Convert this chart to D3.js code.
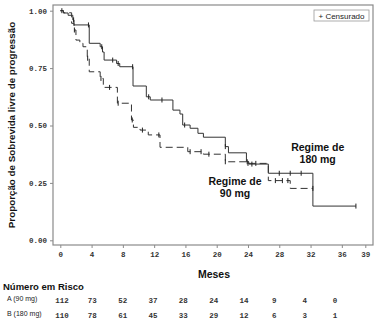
<!DOCTYPE html>
<html>
<head>
<meta charset="utf-8">
<script src="https://cdn.jsdelivr.net/npm/d3@7"></script>
<style>
  body { margin: 0; background: #fff; }
  svg { display: block; }
</style>
</head>
<body>
<div id="chart"></div>
<script>
// Kaplan-Meier steps (months, proportion)
const timesB = [0, 0.4, 1.0, 1.6, 1.75, 3.7, 5.1, 5.4, 5.6, 7.2, 7.6, 9.3, 11.0, 11.5, 14.4, 15.3, 15.65, 16.6, 17.6, 18.3, 21.1, 21.5, 23.8, 24.1, 26.6, 32.3];
const survB = [1.0, 0.99, 0.98, 0.96, 0.938, 0.858, 0.843, 0.82, 0.785, 0.77, 0.756, 0.672, 0.625, 0.611, 0.567, 0.55, 0.502, 0.488, 0.466, 0.449, 0.408, 0.381, 0.342, 0.332, 0.292, 0.149];
const endB = 37.8;
const censorB = [0.2, 1.7, 3.6, 5.3, 6.7, 7.4, 9.25, 11.3, 13.0, 15.9, 21.1, 23.9, 24.5, 28.0, 29.4, 30.8, 37.8];

const timesA = [0, 0.4, 1.45, 1.75, 2.0, 2.5, 2.9, 3.45, 3.7, 5.1, 5.5, 7.3, 9.1, 9.35, 10.2, 11.25, 12.75, 16.3, 18.3, 21.1, 23.8, 26.6, 29.4];
const survA = [1.0, 0.991, 0.945, 0.916, 0.872, 0.858, 0.843, 0.793, 0.734, 0.705, 0.666, 0.597, 0.524, 0.492, 0.48, 0.459, 0.405, 0.386, 0.375, 0.342, 0.335, 0.26, 0.226];
const endA = 32.3;
const censorA = [1.8, 3.5, 5.2, 6.3, 7.4, 9.2, 10.5, 12.6, 16.6, 18.0, 19.0, 21.1, 24.0, 25.0, 27.5, 28.4, 29.1, 32.3];

const xTicks = [0, 4, 8, 12, 16, 20, 24, 28, 32, 36, 39];
const yTicks = [0, 0.25, 0.5, 0.75, 1.0];

const riskTimes = [0, 4, 8, 12, 16, 20, 24, 28, 32, 36];
const riskA = [112, 73, 52, 37, 28, 24, 14, 9, 4, 0];
const riskB = [110, 78, 61, 45, 33, 29, 12, 6, 3, 1];

const width = 377, height = 328;
const svg = d3.select("#chart").append("svg")
  .attr("width", width)
  .attr("height", height);

const x = d3.scaleLinear().domain([0, 39]).range([60.3, 365.3]);
const y = d3.scaleLinear().domain([0, 1]).range([240.3, 10.7]);
const frame = { left: 53, top: 5, right: 373, bottom: 245 };
const axisColor = "#8a8a8a";
const monoFont = "'Liberation Mono', 'DejaVu Sans Mono', monospace";

// plot frame
svg.append("rect")
  .attr("x", frame.left).attr("y", frame.top)
  .attr("width", frame.right - frame.left).attr("height", frame.bottom - frame.top)
  .attr("fill", "none").attr("stroke", axisColor).attr("stroke-width", 1.2);

// x axis
const xAxis = svg.append("g").attr("transform", `translate(0,${frame.bottom})`)
  .call(d3.axisBottom(x).tickValues(xTicks).tickSize(3).tickPadding(4).tickFormat(d3.format("d")));
xAxis.select(".domain").remove();
xAxis.selectAll("line").attr("stroke", axisColor);
xAxis.selectAll("text").attr("font-family", monoFont).attr("font-size", 7.5).attr("font-weight", "bold").attr("fill", "#333");

// y axis
const yAxis = svg.append("g").attr("transform", `translate(${frame.left},0)`)
  .call(d3.axisLeft(y).tickValues(yTicks).tickSize(3).tickPadding(3).tickFormat(d3.format(".2f")));
yAxis.select(".domain").remove();
yAxis.selectAll("line").attr("stroke", axisColor);
yAxis.selectAll("text").attr("font-family", monoFont).attr("font-size", 7.5).attr("font-weight", "bold").attr("fill", "#333");

// step curves
function stepPoints(times, surv, end) {
  const pts = times.map((t, i) => [t, surv[i]]);
  pts.push([end, surv[surv.length - 1]]);
  return pts;
}
function survAt(times, surv, t) {
  let v = surv[0];
  for (let i = 0; i < times.length; i++) if (times[i] <= t) v = surv[i];
  return v;
}
const line = d3.line().x(d => x(d[0])).y(d => y(d[1])).curve(d3.curveStepAfter);

svg.append("path")
  .datum(stepPoints(timesA, survA, endA))
  .attr("d", line).attr("fill", "none")
  .attr("stroke", "#333").attr("stroke-width", 1)
  .attr("stroke-dasharray", "7,4");

svg.append("path")
  .datum(stepPoints(timesB, survB, endB))
  .attr("d", line).attr("fill", "none")
  .attr("stroke", "#333").attr("stroke-width", 1);

// censor marks
function censorMarks(cens, times, surv) {
  svg.append("g").selectAll("line")
    .data(cens)
    .join("line")
    .attr("x1", d => x(d)).attr("x2", d => x(d))
    .attr("y1", d => y(survAt(times, surv, d)) - 2.5)
    .attr("y2", d => y(survAt(times, surv, d)) + 2.5)
    .attr("stroke", "#222").attr("stroke-width", 1);
}
censorMarks(censorA, timesA, survA);
censorMarks(censorB, timesB, survB);

// legend
svg.append("rect")
  .attr("x", 314).attr("y", 10).attr("width", 55).attr("height", 11)
  .attr("fill", "#fff").attr("stroke", "#999").attr("stroke-width", 0.8);
svg.append("text")
  .attr("x", 341.5).attr("y", 18.8).attr("text-anchor", "middle")
  .attr("font-family", "'Liberation Sans', Arial, sans-serif").attr("font-size", 8)
  .attr("fill", "#222")
  .text("+ Censurado");

// curve labels
const labelFont = "'Liberation Sans', Arial, sans-serif";
[["Regime de", 317.7, 150.5], ["180 mg", 317.7, 163], ["Regime de", 235, 185], ["90 mg", 235, 196.5]]
  .forEach(([t, cx, cy]) => {
    svg.append("text")
      .attr("x", cx).attr("y", cy).attr("text-anchor", "middle")
      .attr("font-family", labelFont).attr("font-weight", "bold").attr("font-size", 10.5)
      .attr("fill", "#111")
      .text(t);
  });

// axis titles
svg.append("text")
  .attr("transform", "translate(15,125) rotate(-90)")
  .attr("text-anchor", "middle")
  .attr("font-family", labelFont).attr("font-weight", "bold").attr("font-size", 9.8)
  .attr("fill", "#111")
  .text("Proporção de Sobrevida livre de progressão");

svg.append("text")
  .attr("x", 214).attr("y", 278).attr("text-anchor", "middle")
  .attr("font-family", labelFont).attr("font-weight", "bold").attr("font-size", 10.5)
  .attr("fill", "#111")
  .text("Meses");

// number at risk table
svg.append("text")
  .attr("x", 3).attr("y", 290)
  .attr("font-family", labelFont).attr("font-weight", "bold").attr("font-size", 9.5)
  .attr("fill", "#111")
  .text("Número em Risco");

svg.append("text")
  .attr("x", 7).attr("y", 301)
  .attr("font-family", labelFont).attr("font-size", 7).attr("fill", "#222")
  .text("A (90 mg)");
svg.append("text")
  .attr("x", 7).attr("y", 315.5)
  .attr("font-family", labelFont).attr("font-size", 7).attr("fill", "#222")
  .text("B (180 mg)");

const xr = d3.scaleLinear().domain([0, 36]).range([62, 335]);
svg.append("g").selectAll("text")
  .data(riskA.map((v, i) => [riskTimes[i], v]))
  .join("text")
  .attr("x", d => xr(d[0])).attr("y", 302.5).attr("text-anchor", "middle")
  .attr("font-family", monoFont).attr("font-weight", "bold").attr("font-size", 7.5)
  .attr("fill", "#333")
  .text(d => d[1]);
svg.append("g").selectAll("text")
  .data(riskB.map((v, i) => [riskTimes[i], v]))
  .join("text")
  .attr("x", d => xr(d[0])).attr("y", 318).attr("text-anchor", "middle")
  .attr("font-family", monoFont).attr("font-weight", "bold").attr("font-size", 7.5)
  .attr("fill", "#333")
  .text(d => d[1]);
</script>
</body>
</html>
